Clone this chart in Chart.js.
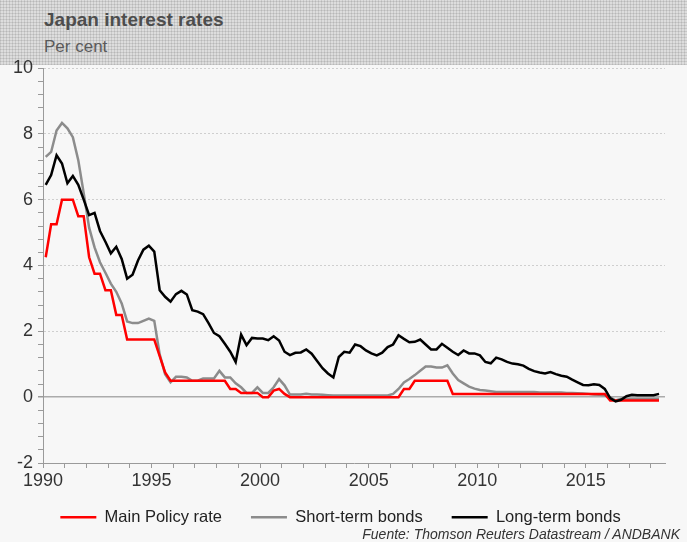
<!DOCTYPE html>
<html>
<head>
<meta charset="utf-8">
<script src="https://cdn.jsdelivr.net/npm/chart.js@4"></script>
<style>
  html, body { margin: 0; padding: 0; }
  body { width: 687px; height: 542px; background: #f7f7f7; position: relative; overflow: hidden;
         font-family: "Liberation Sans", Arial, sans-serif; }
  #header { position: absolute; left: 0; top: 0; width: 687px; height: 65px; background-color: #dddddd;
    background-image: repeating-linear-gradient(0deg, rgba(0,0,0,0.09) 0 1px, transparent 1px 3px),
                      repeating-linear-gradient(90deg, rgba(0,0,0,0.09) 0 1px, transparent 1px 3px); }
  #title { position: absolute; left: 44px; top: 9px; font-size: 19px; font-weight: bold; color: #4d4d4d; }
  #subtitle { position: absolute; left: 44px; top: 37px; font-size: 17px; color: #5a5a5a; }
  #source { position: absolute; right: 7px; top: 526px; font-size: 14px; font-style: italic; color: #333; }
  #wrap { position: absolute; left: 0; top: 0; width: 687px; height: 542px; }
</style>
</head>
<body>
<div id="header">
  <div id="title">Japan interest rates</div>
  <div id="subtitle">Per cent</div>
</div>
<div id="wrap"><canvas id="chart" width="687" height="542"></canvas></div>
<div id="source">Fuente: Thomson Reuters Datastream / ANDBANK</div>
<script>
// quarterly readings, 1990 Q1 .. 2018 Q2
const policyRate = [
  4.25, 5.25, 5.25, 6.0, 6.0, 6.0, 5.5, 5.5, 4.25, 3.75,
  3.75, 3.25, 3.25, 2.5, 2.5, 1.75, 1.75, 1.75, 1.75, 1.75,
  1.75, 1.25, 0.75, 0.5, 0.5, 0.5, 0.5, 0.5, 0.5, 0.5,
  0.5, 0.5, 0.5, 0.5, 0.25, 0.25, 0.13, 0.13, 0.13, 0.13,
  0, 0, 0.2, 0.25, 0.1, 0, 0, 0, 0, 0,
  0, 0, 0, 0, 0, 0, 0, 0, 0, 0,
  0, 0, 0, 0, 0, 0, 0.25, 0.25, 0.5, 0.5,
  0.5, 0.5, 0.5, 0.5, 0.5, 0.1, 0.1, 0.1, 0.1, 0.1,
  0.1, 0.1, 0.1, 0.1, 0.1, 0.1, 0.1, 0.1, 0.1, 0.1,
  0.1, 0.1, 0.1, 0.1, 0.1, 0.1, 0.1, 0.1, 0.1, 0.1,
  0.1, 0.1, 0.1, 0.1, -0.1, -0.1, -0.1, -0.1, -0.1, -0.1,
  -0.1, -0.1, -0.1, -0.1
];
const shortTerm = [
  7.3, 7.45, 8.1, 8.33, 8.17, 7.9, 7.2, 6.2, 5.15, 4.55,
  4.1, 3.78, 3.45, 3.2, 2.85, 2.3, 2.25, 2.25, 2.32, 2.39,
  2.32, 1.3, 0.7, 0.45, 0.62, 0.62, 0.6, 0.5, 0.5, 0.57,
  0.57, 0.57, 0.8, 0.6, 0.6, 0.42, 0.3, 0.13, 0.13, 0.3,
  0.13, 0.13, 0.3, 0.55, 0.36, 0.08, 0.08, 0.08, 0.1, 0.08,
  0.08, 0.07, 0.06, 0.05, 0.05, 0.05, 0.05, 0.05, 0.05, 0.05,
  0.05, 0.05, 0.05, 0.05, 0.1, 0.25, 0.45, 0.55, 0.67, 0.8,
  0.93, 0.93, 0.9, 0.9, 0.97, 0.72, 0.52, 0.42, 0.32, 0.26,
  0.22, 0.2, 0.18, 0.16, 0.16, 0.16, 0.16, 0.16, 0.16, 0.16,
  0.16, 0.14, 0.14, 0.14, 0.14, 0.14, 0.13, 0.13, 0.12, 0.11,
  0.1, 0.08, 0.07, 0.05, 0.0, -0.1, -0.05, -0.05, -0.05, -0.05,
  -0.05, -0.05, -0.05, -0.05
];
const longTerm = [
  6.45, 6.75, 7.35, 7.1, 6.5, 6.72, 6.45, 6.0, 5.53, 5.6,
  5.05, 4.72, 4.37, 4.57, 4.2, 3.6, 3.72, 4.15, 4.48, 4.6,
  4.42, 3.25, 3.05, 2.9, 3.13, 3.23, 3.12, 2.64, 2.6, 2.52,
  2.25, 1.95, 1.85, 1.62, 1.38, 1.07, 1.9, 1.58, 1.8, 1.78,
  1.78, 1.73, 1.85, 1.72, 1.38, 1.28, 1.35, 1.36, 1.45, 1.32,
  1.1, 0.88, 0.72, 0.6, 1.22, 1.38, 1.35, 1.6, 1.55, 1.42,
  1.33, 1.27, 1.35, 1.52, 1.6, 1.88, 1.77, 1.67, 1.68, 1.75,
  1.6, 1.45, 1.45, 1.62, 1.5, 1.38, 1.28, 1.42, 1.33, 1.33,
  1.27, 1.07, 1.03, 1.2, 1.15, 1.07, 1.02, 1.0, 0.96, 0.86,
  0.79, 0.75, 0.72, 0.76, 0.7, 0.65, 0.62, 0.53, 0.45, 0.37,
  0.36, 0.39, 0.37, 0.25, -0.03, -0.13, -0.08, 0.03, 0.07, 0.06,
  0.06, 0.06, 0.06, 0.1
];
const seriesNames = ["Main Policy rate", "Short-term bonds", "Long-term bonds"];
const seriesColors = ["#ff0000", "#8c8c8c", "#000000"];
const yearLabels = [1990, 1995, 2000, 2005, 2010, 2015];
const yLabels = [-2, 0, 2, 4, 6, 8, 10];

// mid-quarter positions on the time axis
const quarters = policyRate.map((_, i) => 1990.125 + i * 0.25);
const toPoints = vals => vals.map((v, i) => ({ x: quarters[i], y: v }));

const isMajor = v => yLabels.some(l => Math.abs(l - v) < 1e-6);
const isZero = v => Math.abs(v) < 1e-6;

// nudge the legend up towards the axis labels and a bit to the right
const placeLegend = {
  id: "placeLegend",
  afterLayout(chart) {
    const lg = chart.legend;
    lg.top -= 13;
    lg.bottom -= 13;
    lg.left += 8;
    lg.right += 8;
  },
};

new Chart(document.getElementById("chart"), {
  type: "line",
  data: {
    datasets: [
      { label: seriesNames[0], data: toPoints(policyRate), borderColor: seriesColors[0], order: 1 },
      { label: seriesNames[1], data: toPoints(shortTerm), borderColor: seriesColors[1], order: 2 },
      { label: seriesNames[2], data: toPoints(longTerm), borderColor: seriesColors[2], order: 0 },
    ].map(d => Object.assign(d, { borderWidth: 2.5, pointRadius: 0, tension: 0, fill: false })),
  },
  plugins: [placeLegend],
  options: {
    responsive: false,
    animation: false,
    layout: { padding: { left: 0, right: 22, top: 68, bottom: 0 } },
    plugins: {
      tooltip: { enabled: false },
      legend: {
        position: "bottom",
        maxHeight: 49,
        labels: {
          sort: (a, b) => a.datasetIndex - b.datasetIndex,
          usePointStyle: true,
          pointStyle: "line",
          pointStyleWidth: 36,
          padding: 29,
          color: "#222",
          font: { family: "Liberation Sans", size: 16.5 },
        },
      },
    },
    scales: {
      x: {
        type: "linear",
        min: 1990,
        max: 2018.65,
        afterFit: s => { s.height = 30; },
        ticks: {
          stepSize: 1,
          autoSkip: false,
          maxRotation: 0,
          includeBounds: false,
          padding: 2,
          color: "#333",
          font: { family: "Liberation Sans", size: 18 },
          callback: v => (yearLabels.includes(v) ? String(v) : ""),
        },
        grid: { drawOnChartArea: false, tickLength: 5, tickColor: "#9a9a9a" },
        border: { color: "#9a9a9a", width: 1 },
      },
      y: {
        min: -2,
        max: 10,
        afterFit: s => { s.width = 43; },
        ticks: {
          stepSize: 0.4,
          autoSkip: false,
          padding: 5,
          color: "#333",
          font: { family: "Liberation Sans", size: 18 },
          callback: v => (isMajor(v) ? String(Math.round(v)) : ""),
        },
        grid: {
          tickLength: 5,
          tickColor: "#9a9a9a",
          color: c => {
            const v = c.tick.value;
            if (isZero(v)) return "#ababab";
            if (isMajor(v) && v > -2) return "#cfcfcf";
            return "rgba(0,0,0,0)";
          },
          lineWidth: c => (isZero(c.tick.value) ? 1.5 : 1),
        },
        border: {
          color: "#9a9a9a",
          width: 1,
          dash: c => (isZero(c.tick.value) ? [] : [2, 2]),
        },
      },
    },
  },
});
</script>
</body>
</html>
